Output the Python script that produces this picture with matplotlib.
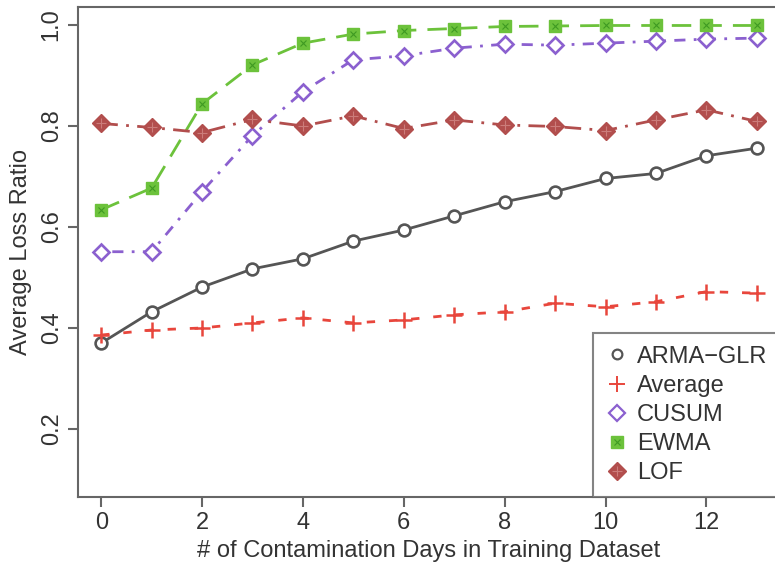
import numpy as np
import matplotlib
matplotlib.use("Agg")
import matplotlib.pyplot as plt
from matplotlib.lines import Line2D
from matplotlib.legend_handler import HandlerTuple

plt.rcParams['font.family'] = ['Liberation Sans', 'DejaVu Sans']

# Data
days = np.arange(0, 14)
arma_glr = [0.370, 0.432, 0.481, 0.517, 0.537, 0.572, 0.594,
            0.622, 0.650, 0.670, 0.696, 0.706, 0.741, 0.756]
average = [0.386, 0.396, 0.400, 0.410, 0.420, 0.410, 0.416,
           0.426, 0.432, 0.449, 0.442, 0.452, 0.472, 0.469]
cusum = [0.551, 0.551, 0.670, 0.781, 0.868, 0.931, 0.939,
         0.954, 0.962, 0.960, 0.964, 0.968, 0.972, 0.974]
ewma = [0.634, 0.677, 0.844, 0.921, 0.964, 0.982, 0.989,
        0.993, 0.997, 0.998, 0.999, 0.999, 0.999, 0.999]
lof = [0.805, 0.797, 0.787, 0.813, 0.800, 0.820, 0.795,
       0.812, 0.802, 0.799, 0.791, 0.812, 0.832, 0.809]

xticks = [0, 2, 4, 6, 8, 10, 12]
yticks = [0.2, 0.4, 0.6, 0.8, 1.0]
ytick_labels = ['0.2', '0.4', '0.6', '0.8', '1.0']
labels = ['ARMA\u2212GLR', 'Average', 'CUSUM', 'EWMA', 'LOF']

c_arma = '#555555'
c_avg = '#e8463c'
c_cusum = '#8b60cf'
c_ewma = '#6cc23b'
c_ewma_x = '#3f9a22'
c_lof = '#b24e4d'
c_lof_x = '#cc7c7a'
axis_col = '#666666'

W, H = 775, 566
fig = plt.figure(figsize=(W / 100, H / 100), dpi=100)
# right edge sits just past the image, like the cropped original
ax = fig.add_axes([78 / W, (H - 497) / H, (780 - 78) / W, (497 - 7) / H])

lw = 2.0
ax.plot(days, arma_glr, color=c_arma, lw=lw, ls='-', marker='o', ms=8.5,
        mfc='white', mec=c_arma, mew=1.9, zorder=3)
ax.plot(days, average, color=c_avg, lw=lw, ls=(0, (3, 5)), marker='+', ms=12,
        mew=1.8, zorder=3)
ax.plot(days, cusum, color=c_cusum, lw=lw, ls=(0, (1, 3, 4, 3)), marker='D', ms=8,
        mfc='white', mec=c_cusum, mew=1.9, zorder=3)
ax.plot(days, ewma, color=c_ewma, lw=lw, ls=(0, (7, 4)), marker='s', ms=8.5,
        mfc=c_ewma, mec=c_ewma, zorder=3)
ax.plot(days, ewma, ls='none', marker='x', ms=5, mec=c_ewma_x, mew=0.8, zorder=4)
ax.plot(days, lof, color=c_lof, lw=lw, ls=(0, (6, 3, 1, 3)), marker='D', ms=9,
        mfc=c_lof, mec=c_lof, zorder=3)
ax.plot(days, lof, ls='none', marker='+', ms=7, mec=c_lof_x, mew=0.8, zorder=4)

ax.set_xlim(-0.46, 13.46)
ax.set_ylim(0.0653, 1.0356)
ax.set_xticks(xticks)
ax.set_yticks(yticks)
ax.set_xticklabels([str(t) for t in xticks])
ax.set_yticklabels(ytick_labels, rotation=90, va='center')

for s in ax.spines.values():
    s.set_color(axis_col)
    s.set_linewidth(1.5)
ax.tick_params(axis='both', colors=axis_col, length=7, width=1.5,
               labelsize=17, labelcolor='#333333', pad=4)

ax.set_xlabel('# of Contamination Days in Training Dataset', fontsize=17,
              color='#333333', labelpad=4)
ax.set_ylabel('Average Loss Ratio', fontsize=17, color='#333333', labelpad=6)

# legend shows markers only, as in R
handles = [
    Line2D([], [], ls='none', marker='o', ms=7, mfc='white', mec=c_arma, mew=1.6),
    Line2D([], [], ls='none', marker='+', ms=12, mec=c_avg, mew=1.4),
    Line2D([], [], ls='none', marker='D', ms=8, mfc='white', mec=c_cusum, mew=1.6),
    (Line2D([], [], ls='none', marker='s', ms=8, mfc=c_ewma, mec=c_ewma),
     Line2D([], [], ls='none', marker='x', ms=5, mec=c_ewma_x, mew=0.8)),
    (Line2D([], [], ls='none', marker='D', ms=9, mfc=c_lof, mec=c_lof),
     Line2D([], [], ls='none', marker='+', ms=7, mec=c_lof_x, mew=0.8)),
]
leg = ax.legend(handles, labels, loc='lower right', bbox_to_anchor=(1, 0),
                borderaxespad=0, fontsize=17, frameon=True, fancybox=False,
                handlelength=0.9, handletextpad=0.4, labelspacing=0.3,
                borderpad=0.55,
                handler_map={tuple: HandlerTuple(ndivide=1, pad=0)})
leg.get_frame().set_edgecolor(axis_col)
leg.get_frame().set_linewidth(1.5)
for t in leg.get_texts():
    t.set_color('#333333')

fig.savefig('out.png', dpi=100)
